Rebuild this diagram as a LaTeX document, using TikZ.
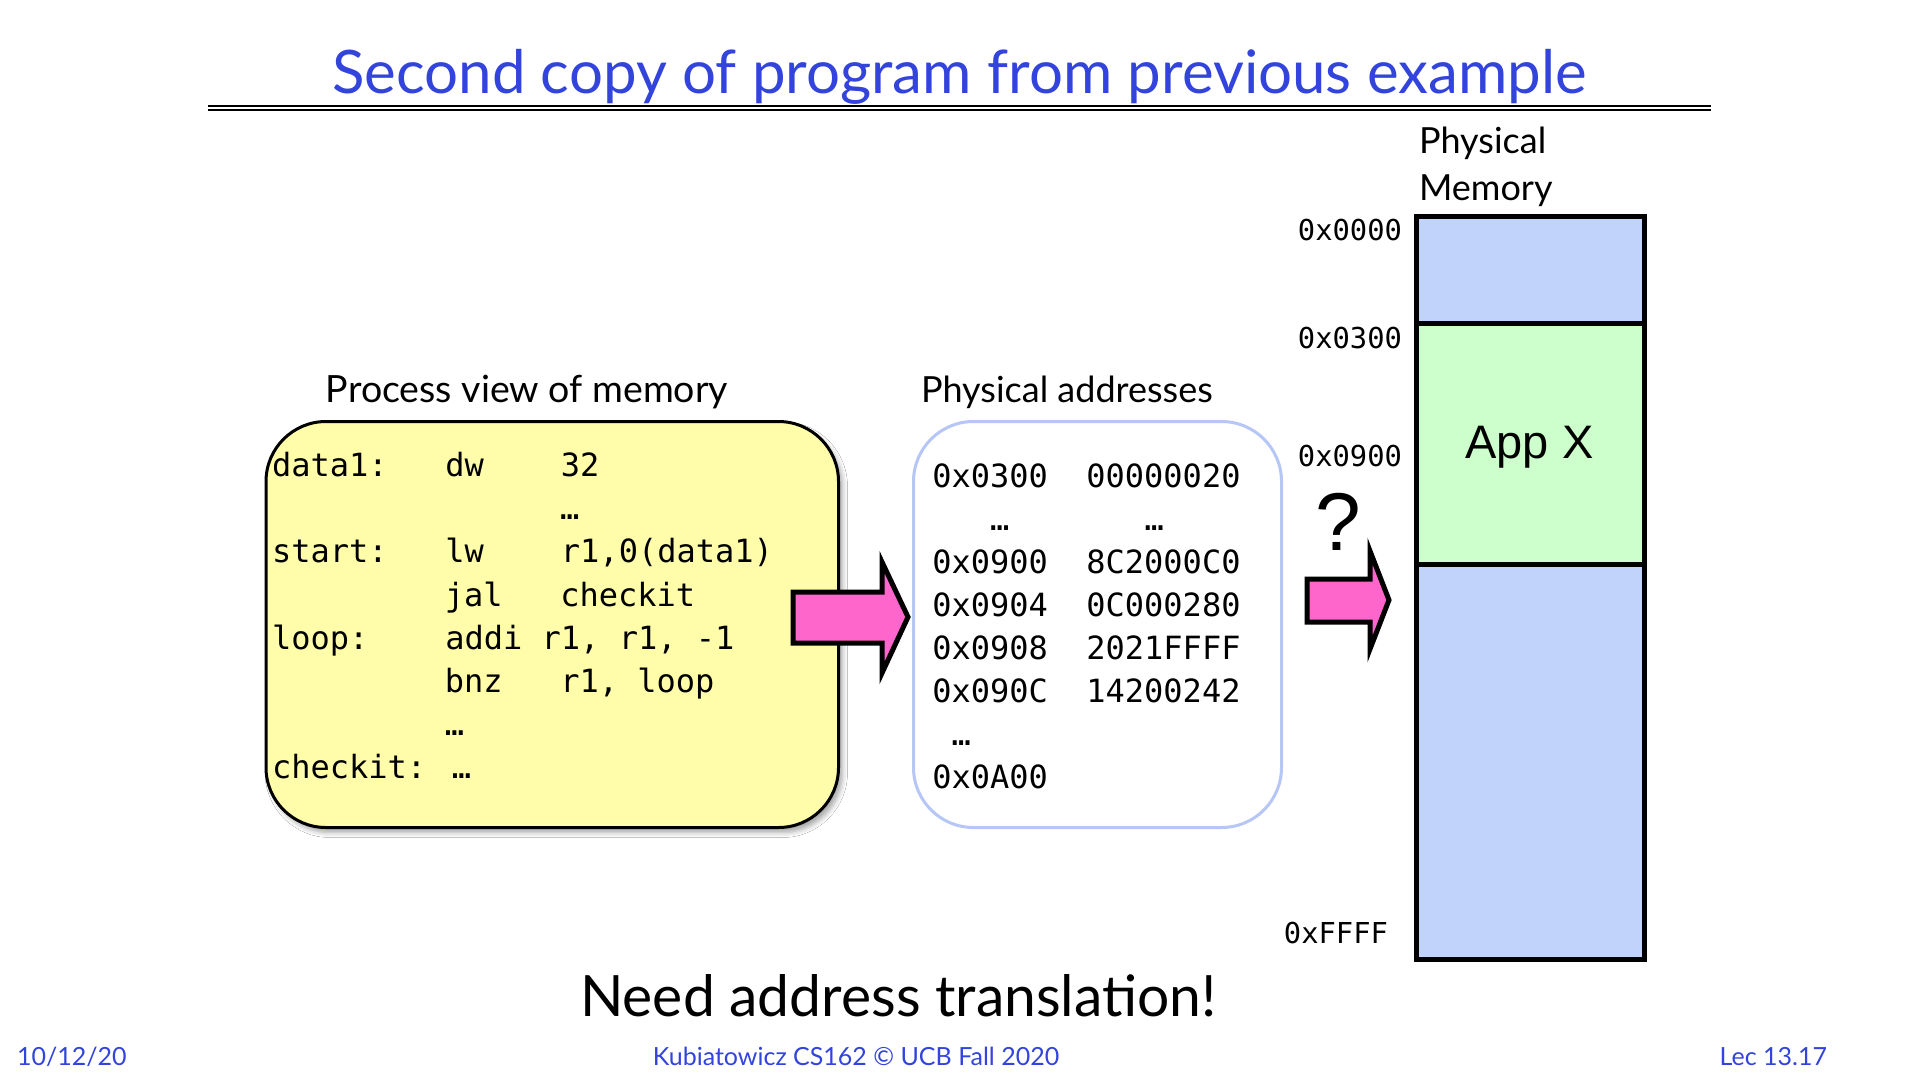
\documentclass[tikz,border=0pt]{standalone}
\usepackage{fontspec}
\setmainfont{Lato}
\newfontfamily\codefont{DejaVu Sans Mono}
\newfontfamily\helv{Liberation Sans}
\usetikzlibrary{shadows.blur}

\definecolor{slideblue}{RGB}{51,68,221}
\definecolor{codeyellow}{RGB}{255,253,170}
\definecolor{arrowpink}{RGB}{255,102,204}
\definecolor{boxblue}{RGB}{182,198,246}
\definecolor{memblue}{RGB}{193,210,251}
\definecolor{memgreen}{RGB}{204,255,204}

\begin{document}
\begin{tikzpicture}[x=1pt,y=-1pt,
  every node/.style={inner sep=0pt, outer sep=0pt},
  heading/.style={font=\fontsize{36}{42}\selectfont, anchor=base west},
  codeline/.style={font=\codefont\fontsize{32}{38}\selectfont, anchor=base west},
  addrlabel/.style={font=\codefont\fontsize{28.8}{34}\selectfont, anchor=base east},
  footer/.style={font=\fontsize{25}{29}\selectfont, text=slideblue},
  procbox/.style={draw=black, line width=3pt, fill=codeyellow, rounded corners=60pt,
    minimum width=572.5pt, minimum height=406pt,
    blur shadow={shadow xshift=4pt, shadow yshift=-5pt, shadow blur radius=5pt, shadow opacity=35}},
  physbox/.style={draw=boxblue, line width=3pt, fill=white, rounded corners=60pt,
    minimum width=368pt, minimum height=406pt},
  memblock/.style={draw=black, line width=5pt, minimum width=228pt},
  blockarrow/.style={draw=black, fill=arrowpink, line width=5pt, line join=miter, miter limit=10}
]
\useasboundingbox[fill=white] (0,0) rectangle (1920,1080);

% title and rule
\node[font=\fontsize{60}{66}\selectfont, text=slideblue, anchor=base] (title) at (959.5,93)
  {Second copy of program from previous example};
\draw[line width=2pt] (208,106) -- (1711,106);
\draw[line width=2pt] (208,110) -- (1711,110);

% process view of memory
\node[heading, font=\fontsize{37.5}{42}\selectfont, anchor=base] (proclabel) at (527,402) {Process view of memory};
\node[procbox] (proc) at (552.25,624.5) {};
\node[codeline] (c1) at (272,476.7) {data1:\ \ \ dw\ \ \ \ 32};
\node[codeline] (c2) at (560,519.8) {…};
\node[codeline] (c3) at (272,562.9) {start:\ \ \ lw\ \ \ \ r1,0(data1)};
\node[codeline] (c4) at (444.8,606.0) {jal\ \ \ checkit};
\node[codeline] (c5) at (272,649.1) {loop:\ \ \ \ addi r1, r1, -1};
\node[codeline] (c6) at (444.8,692.2) {bnz\ \ \ r1, loop};
\node[codeline] (c7) at (444.8,735.3) {…};
\node[codeline] (c8) at (272,778.4) {checkit: …};

% physical addresses
\node[heading] (physlabel) at (921,402) {Physical addresses};
\node[physbox] (phys) at (1097.5,624.5) {};
\node[codeline] (p1) at (932.3,487.7) {0x0300\ \ 00000020};
\node[codeline] (p2a) at (990.2,530.7) {…};
\node[codeline] (p2b) at (1144.6,530.7) {…};
\node[codeline] (p3) at (932.3,573.7) {0x0900\ \ 8C2000C0};
\node[codeline] (p4) at (932.3,616.7) {0x0904\ \ 0C000280};
\node[codeline] (p5) at (932.3,659.7) {0x0908\ \ 2021FFFF};
\node[codeline] (p6) at (932.3,702.7) {0x090C\ \ 14200242};
\node[codeline] (p7) at (951.6,745.7) {…};
\node[codeline] (p8) at (932.3,788.7) {0x0A00};

% translation arrows
\draw[blockarrow] (793,592) -- (882,592) -- (882,562) -- (908,617) -- (882,673)
  -- (882,643) -- (793,643) -- cycle;
\draw[blockarrow] (1307,579) -- (1370,579) -- (1370,551) -- (1389,600) -- (1370,649)
  -- (1370,622) -- (1307,622) -- cycle;
\node[font=\helv\fontsize{82}{90}\selectfont, anchor=base] (question) at (1338,550) {?};

% physical memory
\node[heading] (memlabel1) at (1419,153) {Physical};
\node[heading] (memlabel2) at (1419,200) {Memory};
\node[memblock, fill=memblue, minimum height=107pt] (memtop) at (1530,269.5) {};
\node[memblock, fill=memgreen, minimum height=241pt] (appx) at (1530,443.5) {};
\node[memblock, fill=memblue, minimum height=395pt] (membot) at (1530,761.5) {};
\node[font=\helv\fontsize{47}{52}\selectfont, anchor=base] (appxlabel) at (1529.5,458) {App X};
\node[addrlabel] (a0) at (1402,240) {0x0000};
\node[addrlabel] (a1) at (1402,348.3) {0x0300};
\node[addrlabel] (a2) at (1402,466.7) {0x0900};
\node[addrlabel] (a3) at (1388,943.3) {0xFFFF};

% conclusion and footer
\node[font=\fontsize{57}{63}\selectfont, anchor=base] (need) at (898.5,1016) {Need address translation!};
\node[footer, anchor=base west] (date) at (17,1065) {10/12/20};
\node[footer, anchor=base] (course) at (856,1065) {Kubiatowicz CS162 © UCB Fall 2020};
\node[footer, anchor=base east] (lec) at (1827,1065) {Lec 13.17};
\end{tikzpicture}
\end{document}
